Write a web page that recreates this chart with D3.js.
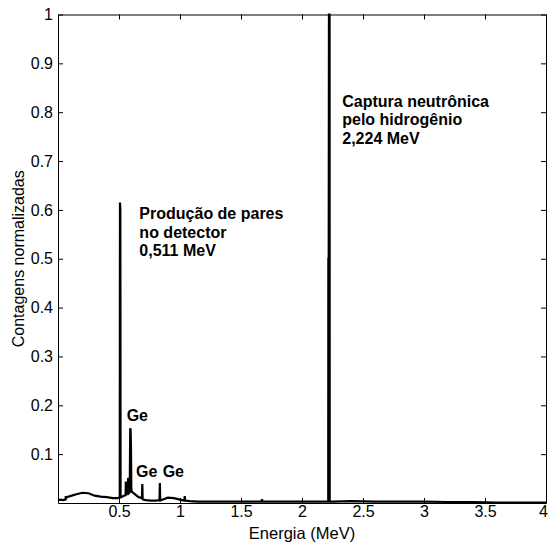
<!DOCTYPE html>
<html>
<head>
<meta charset="utf-8">
<script src="https://cdn.jsdelivr.net/npm/d3@7"></script>
<style>
  body { margin: 0; background: #fff; }
  text { font-family: "Liberation Sans", Arial, sans-serif; }
</style>
</head>
<body>
<svg id="chart"></svg>
<script>
// gamma spectrum, normalized counts vs energy
const energy = [0.0, 0.02, 0.04, 0.062, 0.064, 0.066, 0.07, 0.1, 0.15, 0.2, 0.25, 0.3, 0.35, 0.4, 0.45, 0.49,
  0.506, 0.508, 0.511, 0.513, 0.52, 0.54, 0.554, 0.556, 0.558, 0.56, 0.572, 0.575, 0.577, 0.58,
  0.588, 0.592, 0.595, 0.598, 0.601, 0.604, 0.61, 0.63, 0.66, 0.688, 0.691, 0.694, 0.697, 0.72,
  0.76, 0.8, 0.832, 0.835, 0.838, 0.86, 0.9, 0.95, 1.0, 1.036, 1.039, 1.042, 1.08, 1.15, 1.3,
  1.45, 1.6, 1.668, 1.672, 1.676, 1.8, 2.0, 2.2, 2.215, 2.216, 2.219, 2.221, 2.226, 2.227, 2.26, 2.4,
  2.6, 2.8, 3.0, 3.2, 3.4, 3.6, 3.8, 4.0];
const counts = [0.006, 0.007, 0.006, 0.007, 0.014, 0.008, 0.012, 0.014, 0.018, 0.021, 0.02, 0.015, 0.013, 0.012, 0.01, 0.01,
  0.011, 0.615, 0.6, 0.012, 0.012, 0.015, 0.016, 0.044, 0.02, 0.018, 0.02, 0.051, 0.05, 0.02,
  0.022, 0.153, 0.15, 0.115, 0.03, 0.024, 0.022, 0.018, 0.012, 0.01, 0.039, 0.008, 0.007, 0.006,
  0.005, 0.005, 0.006, 0.041, 0.005, 0.007, 0.011, 0.01, 0.007, 0.005, 0.014, 0.005, 0.004, 0.003, 0.003,
  0.003, 0.003, 0.003, 0.008, 0.003, 0.003, 0.003, 0.003, 0.003, 0.5, 0.5, 1.0, 1.0, 0.003, 0.003, 0.004,
  0.003, 0.003, 0.003, 0.002, 0.002, 0.001, 0.001, 0.001];
const xTicks = [0.5, 1, 1.5, 2, 2.5, 3, 3.5, 4];
const yTicks = [0.1, 0.2, 0.3, 0.4, 0.5, 0.6, 0.7, 0.8, 0.9, 1];
const notes = [
  { x: 0.667, y: 0.581, lines: ["Produção de pares", "no detector", "0,511 MeV"] },
  { x: 2.33, y: 0.811, lines: ["Captura neutrônica", "pelo hidrogênio", "2,224 MeV"] },
  { x: 0.563, y: 0.168, lines: ["Ge"] },
  { x: 0.639, y: 0.053, lines: ["Ge"] },
  { x: 0.858, y: 0.053, lines: ["Ge"] }
];

const width = 549, height = 543;
const margin = { top: 14.5, right: 3, bottom: 40, left: 58 };

const svg = d3.select('#chart')
  .attr('width', width)
  .attr('height', height);

const x = d3.scaleLinear().domain([0, 4]).range([margin.left, width - margin.right]);
const y = d3.scaleLinear().domain([0, 1]).range([height - margin.bottom, margin.top]);

const pts = energy.map((e, i) => [e, counts[i]]);

// spectrum
svg.append('path')
  .datum(pts)
  .attr('fill', 'none')
  .attr('stroke', '#000')
  .attr('stroke-width', 2.2)
  .attr('d', d3.line().x(d => x(d[0])).y(d => y(d[1])));

// axes, ticks pointing inwards like matlab
const tickLen = 5;
const fmt = d => String(d);
svg.append('g')
  .attr('class', 'xaxis')
  .attr('transform', `translate(0,${y(0)})`)
  .call(d3.axisBottom(x).tickValues(xTicks).tickFormat(fmt).tickSizeInner(-tickLen).tickSizeOuter(0).tickPadding(3));
svg.append('g')
  .attr('transform', `translate(0,${y(1)})`)
  .call(d3.axisTop(x).tickValues(xTicks).tickFormat('').tickSizeInner(-tickLen).tickSizeOuter(0));
svg.append('g')
  .attr('transform', `translate(${x(0)},0)`)
  .call(d3.axisLeft(y).tickValues(yTicks).tickFormat(fmt).tickSizeInner(-tickLen).tickSizeOuter(0).tickPadding(5));
svg.append('g')
  .attr('transform', `translate(${x(4)},0)`)
  .call(d3.axisRight(y).tickValues(yTicks).tickFormat('').tickSizeInner(-tickLen).tickSizeOuter(0));

svg.selectAll('.domain').attr('stroke', '#000');
svg.selectAll('.tick line').attr('stroke', '#000');
svg.selectAll('.tick text')
  .style('font-family', '"Liberation Sans", Arial, sans-serif')
  .style('font-size', '16px')
  .attr('fill', '#000');
// last x label sits at the window edge
svg.selectAll('.xaxis .tick text').filter(d => d === 4).attr('dx', -3);

// axis titles
svg.append('text')
  .attr('x', (x(0) + x(4)) / 2)
  .attr('y', 539)
  .attr('text-anchor', 'middle')
  .style('font-size', '16.5px')
  .text('Energia (MeV)');

svg.append('text')
  .attr('transform', `translate(24,${(y(0) + y(1)) / 2}) rotate(-90)`)
  .attr('text-anchor', 'middle')
  .style('font-size', '16px')
  .text('Contagens normalizadas');

// annotations
notes.forEach(n => {
  const t = svg.append('text')
    .attr('x', x(n.x))
    .attr('y', y(n.y))
    .style('font-size', '16px')
    .style('font-weight', 'bold');
  n.lines.forEach((l, i) => {
    t.append('tspan').attr('x', x(n.x)).attr('dy', i === 0 ? 0 : 18.5).text(l);
  });
});
</script>
</body>
</html>
